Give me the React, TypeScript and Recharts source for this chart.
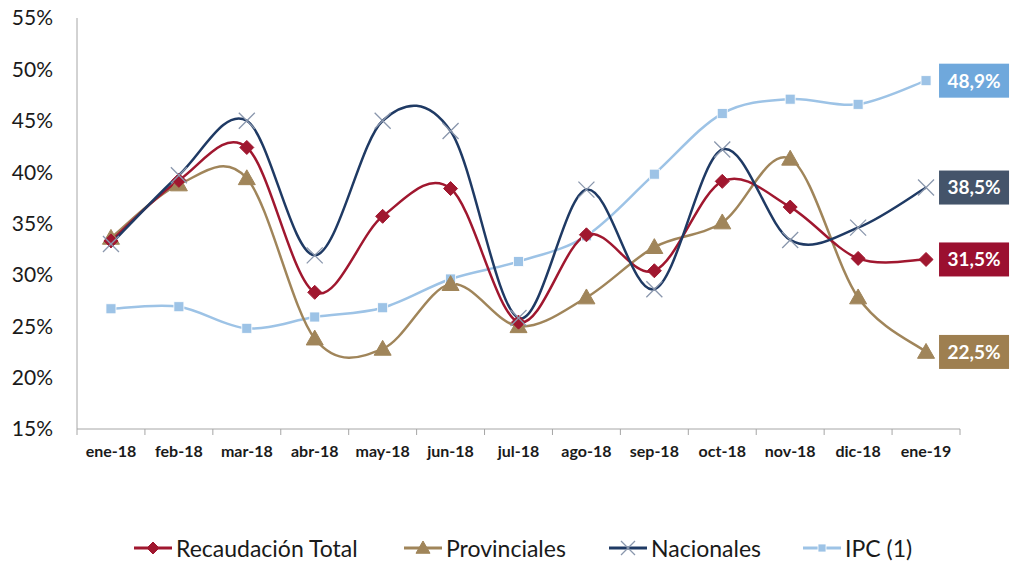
import React from "react";
import { LineChart, Line, XAxis, YAxis } from "recharts";

const categories = ["ene-18","feb-18","mar-18","abr-18","may-18","jun-18","jul-18","ago-18","sep-18","oct-18","nov-18","dic-18","ene-19"];
const recaudacion = [33.3, 39.2, 42.4, 28.3, 35.7, 38.4, 25.4, 33.9, 30.4, 39.1, 36.6, 31.6, 31.5];
const provinciales = [33.6, 38.8, 39.4, 23.8, 22.8, 29.1, 25.0, 27.8, 32.7, 35.1, 41.3, 27.8, 22.5];
const nacionales = [33.0, 39.7, 45.0, 31.9, 45.0, 44.0, 25.8, 38.3, 28.6, 42.2, 33.4, 34.6, 38.5];
const ipc = [26.7, 26.9, 24.8, 25.9, 26.8, 29.6, 31.3, 33.8, 39.8, 45.7, 47.1, 46.6, 48.9];
const yTicks = [15, 20, 25, 30, 35, 40, 45, 50, 55];

const data = categories.map((c, i) => ({
  cat: c,
  rec: recaudacion[i],
  prov: provinciales[i],
  nac: nacionales[i],
  ipc: ipc[i],
}));

const C_REC = "#a0172f";
const C_PROV = "#a0855a";
const C_NAC = "#1f3a64";
const C_IPC = "#9dc3e6";
const FONT = "Lato, 'Open Sans', sans-serif";

const excelCurve: any = (context: any) => {
  let pts: number[][] = [];
  return {
    areaStart() {},
    areaEnd() {},
    lineStart() { pts = []; },
    point(x: number, y: number) { pts.push([+x, +y]); },
    lineEnd() {
      const n = pts.length;
      if (!n) return;
      context.moveTo(pts[0][0], pts[0][1]);
      for (let i = 0; i < n - 1; i++) {
        const p0 = pts[Math.max(i - 1, 0)], p1 = pts[i], p2 = pts[i + 1], p3 = pts[Math.min(i + 2, n - 1)];
        context.bezierCurveTo(
          p1[0] + (p2[0] - p0[0]) / 6, p1[1] + (p2[1] - p0[1]) / 6,
          p2[0] - (p3[0] - p1[0]) / 6, p2[1] - (p3[1] - p1[1]) / 6,
          p2[0], p2[1]
        );
      }
    },
  };
};

const Diamond = ({ cx, cy, s = 7, color = C_REC }: any) => (
  <path d={`M${cx},${cy - s}L${cx + s},${cy}L${cx},${cy + s}L${cx - s},${cy}Z`} fill={color} stroke={color} strokeWidth={1} />
);
const Triangle = ({ cx, cy, s = 8.5, color = C_PROV }: any) => (
  <path d={`M${cx},${cy - s}L${cx + s},${cy + s * 0.75}L${cx - s},${cy + s * 0.75}Z`} fill={color} stroke={color} strokeWidth={1} />
);
const Cross = ({ cx, cy, s = 8, color = "#8a97ad" }: any) => (
  <path d={`M${cx - s},${cy - s}L${cx + s},${cy + s}M${cx - s},${cy + s}L${cx + s},${cy - s}`} stroke={color} strokeWidth={1.3} fill="none" />
);
const Square = ({ cx, cy, s = 5, color = C_IPC }: any) => (
  <rect x={cx - s} y={cy - s} width={2 * s} height={2 * s} fill={color} stroke="#ffffff" strokeWidth={0.8} />
);

const mkDot = (Comp: any) => (props: any) => {
  const { cx, cy, index } = props;
  if (cx == null || cy == null) return <g key={index} />;
  return <g key={index}><Comp cx={cx} cy={cy} /></g>;
};

const mkLabel = (bg: string) => (props: any) => {
  const { x, y, value, index } = props;
  if (index !== categories.length - 1) return <g key={index} />;
  const bx = x + 13;
  const w = 70, h = 34;
  return (
    <g key={index}>
      <rect x={bx} y={y - h / 2} width={w} height={h} fill={bg} />
      <text x={bx + w / 2} y={y} dy="0.36em" textAnchor="middle" fill="#ffffff" fontFamily={FONT} fontWeight={700} fontSize={19}>
        {value.toFixed(1).replace(".", ",") + "%"}
      </text>
    </g>
  );
};

const XTick = (props: any) => {
  const { x, y, payload, index } = props;
  const off = payload.offset || 0;
  return (
    <g>
      <line x1={x + off} y1={y} x2={x + off} y2={y + 6} stroke="#a6a6a6" />
      {index === 0 && <line x1={x - off} y1={y} x2={x - off} y2={y + 6} stroke="#a6a6a6" />}
      <text x={x} y={y + 28} textAnchor="middle" fill="#1a1a1a" fontFamily={FONT} fontWeight={700} fontSize={16}>
        {payload.value}
      </text>
    </g>
  );
};

const legendItems = [
  { name: "Recaudación Total", color: C_REC, icon: Diamond, s: 6, left: 133 },
  { name: "Provinciales", color: C_PROV, icon: Triangle, s: 7, left: 403 },
  { name: "Nacionales", color: C_NAC, icon: Cross, s: 7, left: 608 },
  { name: "IPC (1)", color: C_IPC, icon: Square, s: 4, left: 802 },
];

export default function App() {
  return (
    <div style={{ position: "absolute", left: 0, top: 0, width: 1010, height: 567, background: "#fff" }}>
      <LineChart width={1010} height={567} data={data} margin={{ top: 18, right: 50, left: 0, bottom: 0 }}>
        <XAxis
          dataKey="cat"
          scale="band"
          height={138}
          tickSize={0}
          tickMargin={0}
          tickLine={false}
          axisLine={{ stroke: "#a6a6a6" }}
          tick={<XTick />}
          interval={0}
        />
        <YAxis
          domain={[15, 55]}
          ticks={yTicks}
          width={77}
          tickSize={0}
          tickMargin={24}
          tickLine={false}
          axisLine={{ stroke: "#a6a6a6" }}
          tickFormatter={(v: number) => `${v}%`}
          tick={{ fill: "#1a1a1a", fontFamily: FONT, fontSize: 21 }}
          allowDataOverflow
        />
        <Line dataKey="ipc" type={excelCurve} stroke={C_IPC} strokeWidth={2.5} dot={mkDot(Square)} activeDot={false} isAnimationActive={false} label={mkLabel("#6fa8dc")} />
        <Line dataKey="prov" type={excelCurve} stroke={C_PROV} strokeWidth={2.5} dot={mkDot(Triangle)} activeDot={false} isAnimationActive={false} label={mkLabel("#9e7f50")} />
        <Line dataKey="rec" type={excelCurve} stroke={C_REC} strokeWidth={2.5} dot={mkDot(Diamond)} activeDot={false} isAnimationActive={false} label={mkLabel("#9b1030")} />
        <Line dataKey="nac" type={excelCurve} stroke={C_NAC} strokeWidth={2.5} dot={mkDot(Cross)} activeDot={false} isAnimationActive={false} label={mkLabel("#44546a")} />
      </LineChart>
      {legendItems.map((it) => {
        const Icon = it.icon;
        return (
          <div key={it.name} style={{ position: "absolute", left: it.left, top: 533, display: "flex", alignItems: "center", fontFamily: FONT, fontSize: 23, color: "#1a1a1a", whiteSpace: "nowrap" }}>
            <svg width={40} height={30} style={{ marginRight: 3 }}>
              <line x1={1} y1={15} x2={39} y2={15} stroke={it.color} strokeWidth={3} />
              <Icon cx={20} cy={15} s={it.s} />
            </svg>
            <span>{it.name}</span>
          </div>
        );
      })}
    </div>
  );
}
